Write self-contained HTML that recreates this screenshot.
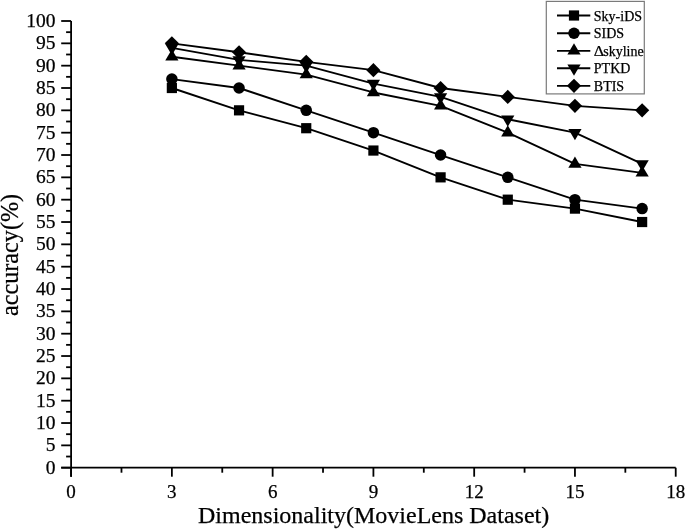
<!DOCTYPE html>
<html><head><meta charset="utf-8"><style>
html,body{margin:0;padding:0;background:#fff;}
body{width:685px;height:530px;overflow:hidden;}
svg{display:block;will-change:transform;}
text{font-family:"Liberation Serif",serif;fill:#000;stroke:#000;stroke-width:0.25px;}
</style></head><body>
<svg width="685" height="530" viewBox="0 0 685 530">

<g stroke="#000" stroke-width="1.8" fill="none" stroke-linecap="butt">
<path d="M71.1 21.00L71.1 476.7"/>
<path d="M61.199999999999996 467.7L675.72 467.7"/>
<path d="M61.20 467.70H71.1"/>
<path d="M66.10 456.53H71.1"/>
<path d="M61.20 445.37H71.1"/>
<path d="M66.10 434.20H71.1"/>
<path d="M61.20 423.03H71.1"/>
<path d="M66.10 411.86H71.1"/>
<path d="M61.20 400.69H71.1"/>
<path d="M66.10 389.53H71.1"/>
<path d="M61.20 378.36H71.1"/>
<path d="M66.10 367.19H71.1"/>
<path d="M61.20 356.02H71.1"/>
<path d="M66.10 344.86H71.1"/>
<path d="M61.20 333.69H71.1"/>
<path d="M66.10 322.52H71.1"/>
<path d="M61.20 311.36H71.1"/>
<path d="M66.10 300.19H71.1"/>
<path d="M61.20 289.02H71.1"/>
<path d="M66.10 277.85H71.1"/>
<path d="M61.20 266.69H71.1"/>
<path d="M66.10 255.52H71.1"/>
<path d="M61.20 244.35H71.1"/>
<path d="M66.10 233.18H71.1"/>
<path d="M61.20 222.02H71.1"/>
<path d="M66.10 210.85H71.1"/>
<path d="M61.20 199.68H71.1"/>
<path d="M66.10 188.51H71.1"/>
<path d="M61.20 177.35H71.1"/>
<path d="M66.10 166.18H71.1"/>
<path d="M61.20 155.01H71.1"/>
<path d="M66.10 143.84H71.1"/>
<path d="M61.20 132.68H71.1"/>
<path d="M66.10 121.51H71.1"/>
<path d="M61.20 110.34H71.1"/>
<path d="M66.10 99.17H71.1"/>
<path d="M61.20 88.00H71.1"/>
<path d="M66.10 76.84H71.1"/>
<path d="M61.20 65.67H71.1"/>
<path d="M66.10 54.50H71.1"/>
<path d="M61.20 43.34H71.1"/>
<path d="M66.10 32.17H71.1"/>
<path d="M61.20 21.00H71.1"/>
<path d="M71.10 467.7V476.7"/>
<path d="M121.48 467.7V472.7"/>
<path d="M171.87 467.7V476.7"/>
<path d="M222.26 467.7V472.7"/>
<path d="M272.64 467.7V476.7"/>
<path d="M323.02 467.7V472.7"/>
<path d="M373.41 467.7V476.7"/>
<path d="M423.80 467.7V472.7"/>
<path d="M474.18 467.7V476.7"/>
<path d="M524.57 467.7V472.7"/>
<path d="M574.95 467.7V476.7"/>
<path d="M625.34 467.7V472.7"/>
<path d="M675.72 467.7V476.7"/>
</g>
<g font-size="19.5" text-anchor="end">
<text x="55.5" y="473.80">0</text>
<text x="55.5" y="451.47">5</text>
<text x="55.5" y="429.13">10</text>
<text x="55.5" y="406.80">15</text>
<text x="55.5" y="384.46">20</text>
<text x="55.5" y="362.12">25</text>
<text x="55.5" y="339.79">30</text>
<text x="55.5" y="317.46">35</text>
<text x="55.5" y="295.12">40</text>
<text x="55.5" y="272.79">45</text>
<text x="55.5" y="250.45">50</text>
<text x="55.5" y="228.12">55</text>
<text x="55.5" y="205.78">60</text>
<text x="55.5" y="183.45">65</text>
<text x="55.5" y="161.11">70</text>
<text x="55.5" y="138.78">75</text>
<text x="55.5" y="116.44">80</text>
<text x="55.5" y="94.10">85</text>
<text x="55.5" y="71.77">90</text>
<text x="55.5" y="49.44">95</text>
<text x="55.5" y="27.10">100</text>
</g>
<g font-size="19" text-anchor="middle">
<text x="71.10" y="498">0</text>
<text x="171.87" y="498">3</text>
<text x="272.64" y="498">6</text>
<text x="373.41" y="498">9</text>
<text x="474.18" y="498">12</text>
<text x="574.95" y="498">15</text>
<text x="675.72" y="498">18</text>
</g>
<text font-size="24" x="198" y="523.3">Dimensionality(MovieLens Dataset)</text>
<text transform="translate(17.6,316) rotate(-90)" font-size="24.2">accuracy(%)</text>
<g stroke="#000" stroke-width="1.85" fill="none" stroke-linejoin="round">
<path d="M171.87 88.00 L239.05 110.34 L306.23 128.21 L373.41 150.54 L440.59 177.35 L507.77 199.68 L574.95 208.61 L642.13 222.02"/>
<path d="M171.87 79.07 L239.05 88.00 L306.23 110.34 L373.41 132.68 L440.59 155.01 L507.77 177.35 L574.95 199.68 L642.13 208.61"/>
<path d="M171.87 56.74 L239.05 65.67 L306.23 74.60 L373.41 92.47 L440.59 105.87 L507.77 132.68 L574.95 163.94 L642.13 172.88"/>
<path d="M171.87 47.80 L239.05 59.86 L306.23 65.67 L373.41 83.54 L440.59 96.94 L507.77 119.27 L574.95 132.68 L642.13 163.94"/>
<path d="M171.87 43.34 L239.05 52.27 L306.23 61.87 L373.41 70.14 L440.59 88.00 L507.77 96.94 L574.95 105.87 L642.13 110.34"/>
</g>
<g fill="#000">
<rect x="166.77" y="82.91" width="10.2" height="10.2"/>
<rect x="233.95" y="105.24" width="10.2" height="10.2"/>
<rect x="301.13" y="123.11" width="10.2" height="10.2"/>
<rect x="368.31" y="145.44" width="10.2" height="10.2"/>
<rect x="435.49" y="172.25" width="10.2" height="10.2"/>
<rect x="502.67" y="194.58" width="10.2" height="10.2"/>
<rect x="569.85" y="203.51" width="10.2" height="10.2"/>
<rect x="637.03" y="216.92" width="10.2" height="10.2"/>
<circle cx="171.87" cy="79.07" r="5.75"/>
<circle cx="239.05" cy="88.00" r="5.75"/>
<circle cx="306.23" cy="110.34" r="5.75"/>
<circle cx="373.41" cy="132.68" r="5.75"/>
<circle cx="440.59" cy="155.01" r="5.75"/>
<circle cx="507.77" cy="177.35" r="5.75"/>
<circle cx="574.95" cy="199.68" r="5.75"/>
<circle cx="642.13" cy="208.61" r="5.75"/>
<path d="M171.87 49.27L178.47 60.47L165.27 60.47Z"/>
<path d="M239.05 58.20L245.65 69.40L232.45 69.40Z"/>
<path d="M306.23 67.14L312.83 78.34L299.63 78.34Z"/>
<path d="M373.41 85.01L380.01 96.21L366.81 96.21Z"/>
<path d="M440.59 98.41L447.19 109.61L433.99 109.61Z"/>
<path d="M507.77 125.21L514.37 136.41L501.17 136.41Z"/>
<path d="M574.95 156.48L581.55 167.68L568.35 167.68Z"/>
<path d="M642.13 165.41L648.73 176.61L635.53 176.61Z"/>
<path d="M165.27 44.07L178.47 44.07L171.87 55.27Z"/>
<path d="M232.45 56.13L245.65 56.13L239.05 67.33Z"/>
<path d="M299.63 61.94L312.83 61.94L306.23 73.14Z"/>
<path d="M366.81 79.80L380.01 79.80L373.41 91.00Z"/>
<path d="M433.99 93.21L447.19 93.21L440.59 104.41Z"/>
<path d="M501.17 115.54L514.37 115.54L507.77 126.74Z"/>
<path d="M568.35 128.94L581.55 128.94L574.95 140.14Z"/>
<path d="M635.53 160.21L648.73 160.21L642.13 171.41Z"/>
<path d="M171.87 36.24L178.97 43.34L171.87 50.44L164.77 43.34Z"/>
<path d="M239.05 45.17L246.15 52.27L239.05 59.37L231.95 52.27Z"/>
<path d="M306.23 54.77L313.33 61.87L306.23 68.97L299.13 61.87Z"/>
<path d="M373.41 63.04L380.51 70.14L373.41 77.24L366.31 70.14Z"/>
<path d="M440.59 80.91L447.69 88.00L440.59 95.10L433.49 88.00Z"/>
<path d="M507.77 89.84L514.87 96.94L507.77 104.04L500.67 96.94Z"/>
<path d="M574.95 98.77L582.05 105.87L574.95 112.97L567.85 105.87Z"/>
<path d="M642.13 103.24L649.23 110.34L642.13 117.44L635.03 110.34Z"/>
</g>
<rect x="546.3" y="1.4" width="98" height="92.5" fill="#fff" stroke="#7a7a7a" stroke-width="1.2"/>
<g stroke="#000" stroke-width="1.85">
<path d="M557 15.5H590.3"/>
<path d="M557 33.2H590.3"/>
<path d="M557 50.8H590.3"/>
<path d="M557 68.2H590.3"/>
<path d="M557 85.8H590.3"/>
</g><g fill="#000">
<rect x="568.90" y="10.40" width="10.2" height="10.2"/>
<circle cx="574.00" cy="33.20" r="5.75"/>
<path d="M574.00 43.33L580.60 54.53L567.40 54.53Z"/>
<path d="M567.40 64.47L580.60 64.47L574.00 75.67Z"/>
<path d="M574.00 78.70L581.10 85.80L574.00 92.90L566.90 85.80Z"/>
</g><g font-size="14">
<text x="593.8" y="20.5">Sky-iDS</text>
<text x="593.8" y="38.2">SIDS</text>
<text transform="translate(593.8 55.8) scale(1.15 1)">Δ</text>
<text x="603.2" y="55.8">skyline</text>
<text x="593.8" y="73.2">PTKD</text>
<text x="593.8" y="90.8">BTIS</text>
</g>
</svg></body></html>
